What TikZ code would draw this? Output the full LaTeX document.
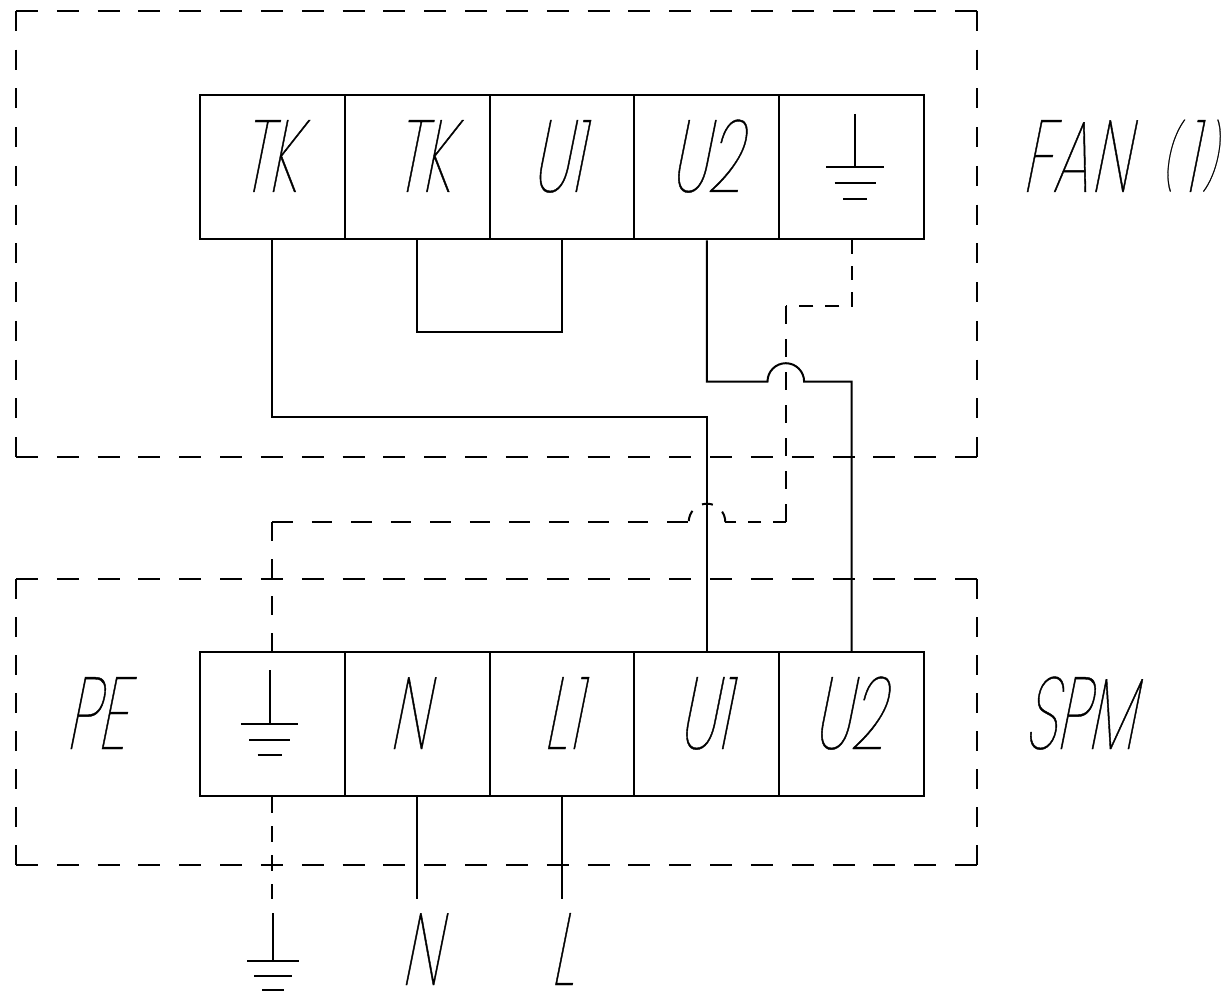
\documentclass[tikz,border=0pt]{standalone}
\usepackage{fontspec}
\newfontfamily\cadfont[FakeSlant=0.2,FakeStretch=0.58,FakeBold=0.4]{Poppins Thin}
\usetikzlibrary{calc, positioning}
\tikzset{
  wire/.style={line width=2pt},
  frameh/.style={line width=2pt, dash pattern=on 22pt off 18.83pt},
  framev/.style={line width=2pt, dash pattern=on 20pt off #1},
  dashw/.style 2 args={line width=2pt, dash pattern=on #1 off #2},
  term/.style={draw, line width=2pt, minimum width=144.8pt, minimum height=144.5pt, inner sep=0pt},
  lbl/.style={font=\fontsize{102}{102}\selectfont\cadfont, anchor=base, inner sep=0pt},
}
\newcommand{\earth}[3]{%
  \begin{scope}[shift={(#1,#2)},scale=#3]
    \draw[wire] (0,0) -- (0,53.5);
    \draw[wire] (-28.7,53.5) -- (28.7,53.5);
    \draw[wire] (-20.5,69.5) -- (20.5,69.5);
    \draw[wire] (-12,85.2) -- (12,85.2);
  \end{scope}
}
\newcommand{\lowparen}[1]{\raisebox{12.5pt}{\fontsize{64}{64}\selectfont #1}}
\begin{document}
\begin{tikzpicture}[x=1pt,y=-1pt]
  \useasboundingbox (0,0) rectangle (1230,992);
  % dashed frames
  \draw[frameh] (16,11) -- (977,11);
  \draw[frameh] (16,457) -- (977,457);
  \draw[framev=18.73pt] (16,11) -- (16,457);
  \draw[framev=18.73pt] (977,11) -- (977,457);
  \draw[frameh] (16,579) -- (977,579);
  \draw[frameh] (16,865) -- (977,865);
  \draw[framev=18pt] (16,579) -- (16,865);
  \draw[framev=18pt] (977,579) -- (977,865);

  % fan terminals
  \node[term] (fanA) at (272.4,167) {};
  \node[term] (fanB) at (417.2,167) {};
  \node[term] (fanC) at (562,167) {};
  \node[term] (fanD) at (706.8,167) {};
  \node[term] (fanE) at (851.6,167) {};

  % spm terminals
  \node[term] (spmA) at (272.4,724) {};
  \node[term] (spmB) at (417.2,724) {};
  \node[term] (spmC) at (562,724) {};
  \node[term] (spmD) at (706.8,724) {};
  \node[term] (spmE) at (851.6,724) {};

  % labels
  \node[lbl] (txtA) at (268.5,192) {TK};
  \node[lbl] (txtB) at (422,192) {TK};
  \node[lbl] (txtC) at (556.5,192) {U1};
  \node[lbl] (txtD) at (705,192) {U2};
  \node[lbl] (txtFan) at (1119,192) {{\addfontfeature{LetterSpace=2.5}FAN}\spaceskip=34pt\ \lowparen{(}\kern7.5pt 1\kern7.5pt\lowparen{)}};
  \node[lbl] (txtPe) at (95.5,749) {PE};
  \node[lbl] (txtN) at (408,749) {N};
  \node[lbl] (txtL) at (561.5,749) {L1};
  \node[lbl] (txtU) at (703,749) {U1};
  \node[lbl] (txtV) at (848,749) {U2};
  \node[lbl] (txtSpm) at (1079,749) {SPM};
  \node[lbl] (lineN) at (420,985) {N};
  \node[lbl] (lineL) at (562,985) {L};

  % earth symbols
  \earth{855}{114}{1}
  \earth{269.5}{670}{1}
  \earth{273}{913}{0.905}

  % wires
  \coordinate (turnA) at (fanA.south |- 0,417);
  \coordinate (turnB) at (fanB.south |- 0,332);
  \coordinate (turnD) at (fanD.south |- 0,381.5);
  \coordinate (hopR) at (767.5,381.5);
  \draw[wire] (fanA.south) -- (turnA) -- (turnA -| spmD.north) -- (spmD.north);
  \draw[wire] (fanB.south) -- (turnB) -| (fanC.south);
  \draw[wire] (fanD.south) -- (turnD) -- (hopR) arc[start angle=180, end angle=360, radius=18.3] -| (spmE.north);

  % earth wires, the dashes differ per run
  \coordinate (bendA) at (fanE.south |- 0,306);
  \coordinate (bendB) at (786,306);
  \coordinate (bendC) at (786,522);
  \coordinate (hopL) at (725.3,522);
  \coordinate (hopM) at (688.7,522);
  \coordinate (bendD) at (spmA.north |- bendC);
  \coordinate (gndEnd) at (spmA.south |- 0,899);
  \coordinate (endN) at (spmB.south |- 0,899);
  \coordinate (endL) at (spmC.south |- 0,899);
  \draw[dashw={14pt}{12pt}] (fanE.south) -- (bendA) -- (bendB);
  \draw[dashw={18pt}{15pt}] (bendB) -- (bendC);
  \draw[dashw={13pt}{12pt}] (bendC) -- (hopL);
  \draw[dashw={11pt}{11.75pt}] (hopL) arc[start angle=0, end angle=-180, radius=18.3];
  \draw[dashw={20.5pt}{19pt}] (bendD) -- (hopM);
  \draw[dashw={19pt}{18pt}] (bendD) -- (spmA.north);
  \draw[dashw={16pt}{13pt}] (spmA.south) -- (gndEnd);
  \draw[wire] (spmB.south) -- (endN);
  \draw[wire] (spmC.south) -- (endL);
\end{tikzpicture}
\end{document}
